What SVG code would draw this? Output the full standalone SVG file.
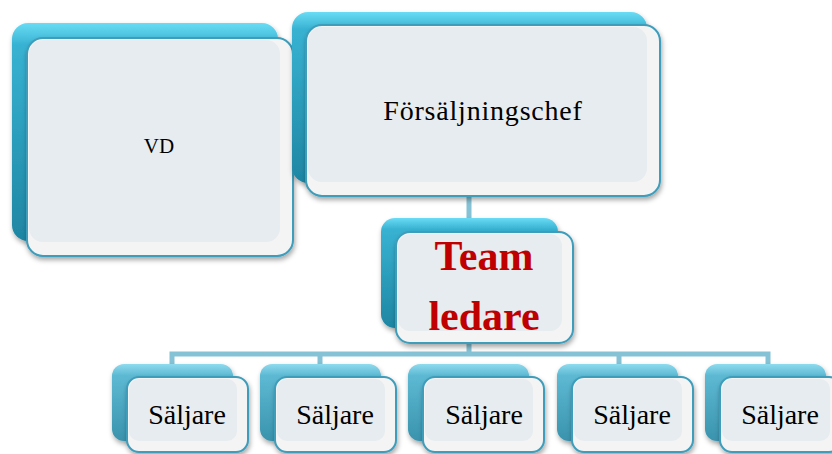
<svg xmlns="http://www.w3.org/2000/svg" width="832" height="454" viewBox="0 0 832 454">
<defs>
<linearGradient id="back" x1="0" y1="0" x2="0" y2="1">
<stop offset="0" stop-color="#6ADCF5"/>
<stop offset="0.1" stop-color="#38B2D2"/>
<stop offset="1" stop-color="#1E86A3"/>
</linearGradient>
<linearGradient id="backS" x1="0" y1="0" x2="0" y2="1">
<stop offset="0" stop-color="#8EDBEE"/>
<stop offset="0.15" stop-color="#5DB9D3"/>
<stop offset="1" stop-color="#3A93AD"/>
</linearGradient>
<filter id="sh" x="-10%" y="-10%" width="125%" height="130%">
<feDropShadow dx="1" dy="3" stdDeviation="2.5" flood-color="#000" flood-opacity="0.35"/>
</filter>
</defs>
<style>
.bk{fill:url(#back);filter:url(#sh)}
.bks{fill:url(#backS);filter:url(#sh)}
.fr{fill:#F4F4F4;stroke:#3E9DBA;stroke-width:2;filter:url(#sh)}
.in{fill:#E6ECEF}
.t{font-family:"Liberation Serif","Times New Roman",serif;fill:#000;text-anchor:middle}
.tl{font-family:"Liberation Serif","Times New Roman",serif;font-weight:bold;fill:#C00000;text-anchor:middle;font-size:42px}
.c{stroke:#86C2D5;stroke-width:5;fill:none}
</style>
<rect width="832" height="454" fill="#fff"/>
<g id="connectors">
<path class="c" d="M469 196V233M469 342V354M172 364V354H768V364M320 354V364M619 354V364"/>
</g>
<g id="vd">
<rect class="bk" x="12" y="23" width="266" height="218" rx="16"/>
<rect class="fr" x="27" y="38" width="266" height="218" rx="16"/>
<rect class="in" x="29" y="40" width="251" height="202" rx="14"/>
<text class="t" x="159" y="153" font-size="21">VD</text>
</g>
<g id="forsaljningschef">
<rect class="bk" x="292" y="12" width="355" height="171" rx="16"/>
<rect class="fr" x="306" y="25" width="354" height="171" rx="16"/>
<rect class="in" x="308" y="27" width="339" height="155" rx="14"/>
<text class="t" x="483" y="120" font-size="28" letter-spacing="0.8">Försäljningschef</text>
</g>
<g id="teamledare">
<rect class="bk" x="381" y="218" width="177" height="110" rx="14"/>
<rect class="fr" x="396" y="232" width="177" height="111" rx="14"/>
<rect class="in" x="398" y="234" width="164" height="97" rx="12"/>
<text class="tl" x="484" y="270">Team</text>
<text class="tl" x="484" y="330">ledare</text>
</g>
<g id="saljare1">
<rect class="bks" x="112" y="364" width="121" height="77" rx="12"/>
<rect class="fr" x="127" y="377" width="121" height="75" rx="12"/>
<rect class="in" x="129" y="379" width="108" height="62" rx="10"/>
<text class="t" x="187" y="424" font-size="28">Säljare</text>
</g>
<g id="saljare2">
<rect class="bks" x="260" y="364" width="121" height="77" rx="12"/>
<rect class="fr" x="275" y="377" width="121" height="75" rx="12"/>
<rect class="in" x="277" y="379" width="108" height="62" rx="10"/>
<text class="t" x="335" y="424" font-size="28">Säljare</text>
</g>
<g id="saljare3">
<rect class="bks" x="408" y="364" width="121" height="77" rx="12"/>
<rect class="fr" x="423" y="377" width="121" height="75" rx="12"/>
<rect class="in" x="425" y="379" width="108" height="62" rx="10"/>
<text class="t" x="484" y="424" font-size="28">Säljare</text>
</g>
<g id="saljare4">
<rect class="bks" x="557" y="364" width="121" height="77" rx="12"/>
<rect class="fr" x="572" y="377" width="121" height="75" rx="12"/>
<rect class="in" x="574" y="379" width="108" height="62" rx="10"/>
<text class="t" x="632" y="424" font-size="28">Säljare</text>
</g>
<g id="saljare5">
<rect class="bks" x="705" y="364" width="121" height="77" rx="12"/>
<rect class="fr" x="720" y="377" width="121" height="75" rx="12"/>
<rect class="in" x="722" y="379" width="108" height="62" rx="10"/>
<text class="t" x="780" y="424" font-size="28">Säljare</text>
</g>
</svg>
